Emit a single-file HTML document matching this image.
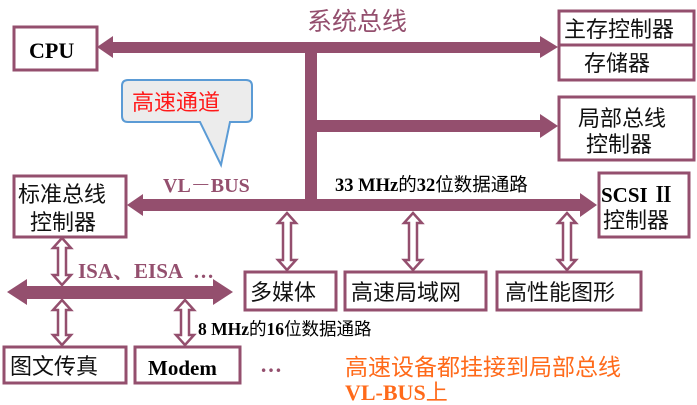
<!DOCTYPE html>
<html><head><meta charset="utf-8"><style>
body{margin:0;background:#fff;}
svg{display:block;}
text{font-family:"Liberation Serif","Noto Serif CJK SC",serif;}
.cn{font-family:"Liberation Sans","Noto Sans CJK SC",sans-serif;}
</style></head><body>
<svg width="697" height="405" viewBox="0 0 697 405" xmlns="http://www.w3.org/2000/svg">
<g fill="#944f6e">
<polygon points="97,47 113,36 113,42 540,42 540,36 558,47 540,58 540,53 113,53 113,58"/>
<rect x="305" y="42" width="12" height="168"/>
<polygon points="317,120 540,120 540,114 558,126 540,138 540,132 317,132"/>
<polygon points="127,205 143,194 143,199 580,199 580,193 597,205 580,217 580,211 143,211 143,216"/>
<polygon points="7,292 27,279 27,286 213,286 213,279 233,292 213,305 213,299 27,299 27,305"/>
</g>
<g fill="#fff" stroke="#944f6e" stroke-width="2.5">
<polygon points="287,213 296,223 291,223 291,260 296,260 287,270 278,260 283,260 283,223 278,223"/>
<polygon points="413,213 422,223 417,223 417,260 422,260 413,270 404,260 409,260 409,223 404,223"/>
<polygon points="567,213 576,223 571,223 571,260 576,260 567,270 558,260 563,260 563,223 558,223"/>
<polygon points="62,238 71,248 66,248 66,275 71,275 62,285 53,275 58,275 58,248 53,248"/>
<polygon points="62,300 71,310 66,310 66,335 71,335 62,345 53,335 58,335 58,310 53,310"/>
<polygon points="185,300 194,310 189,310 189,335 194,335 185,345 176,335 181,335 181,310 176,310"/>
</g>
<g fill="#fff" stroke="#944f6e" stroke-width="3">
<rect x="14" y="27" width="83" height="43"/>
<rect x="559" y="11" width="135" height="69"/>
<line x1="559" y1="45" x2="694" y2="45"/>
<rect x="559" y="97" width="135" height="63"/>
<rect x="599" y="173" width="90" height="64"/>
<rect x="14" y="176" width="112" height="61"/>
<rect x="245" y="272" width="91" height="38"/>
<rect x="345" y="272" width="141" height="38"/>
<rect x="497" y="272" width="144" height="38"/>
<rect x="4" y="347" width="122" height="36"/>
<rect x="135" y="347" width="105" height="36"/>
</g>
<path d="M128,80 H246 Q252,80 252,86 V116 Q252,122 246,122 H230 L221,165 L200,122 H128 Q122,122 122,116 V86 Q122,80 128,80 Z" fill="#ececec" stroke="#5b9bd5" stroke-width="2"/>
<text x="132" y="110" class="cn" font-size="22" fill="#ff1a1a">高速通道</text>
<text x="307" y="30" class="cn" font-size="25" fill="#944f6e">系统总线</text>
<text x="29" y="58" font-size="22" font-weight="bold">CPU</text>
<g font-size="22" fill="#111">
<text x="564" y="37" class="cn">主存控制器</text>
<text x="584" y="71" class="cn">存储器</text>
<text x="578" y="126" class="cn">局部总线</text>
<text x="586" y="152" class="cn">控制器</text>
<text x="603" y="228" class="cn">控制器</text>
<text x="18" y="202" class="cn">标准总线</text>
<text x="30" y="230" class="cn">控制器</text>
<text x="250" y="300" class="cn">多媒体</text>
<text x="351" y="300" class="cn">高速局域网</text>
<text x="505" y="300" class="cn">高性能图形</text>
<text x="10" y="374" class="cn">图文传真</text>
</g>
<text x="601" y="202" font-size="21" font-weight="bold">SCSI Ⅱ</text>
<text x="148" y="375" font-size="21" font-weight="bold">Modem</text>
<text x="163" y="192" font-size="20" font-weight="bold" fill="#944f6e">VL－BUS</text>
<text x="335" y="191" font-size="18.5" font-weight="bold">33 MHz<tspan class="cn" font-weight="normal">的</tspan>32<tspan class="cn" font-weight="normal">位数据通路</tspan></text>
<text x="78" y="278" font-size="21" font-weight="bold" fill="#944f6e">ISA、EISA<tspan dx="10">…</tspan></text>
<text x="198" y="335" font-size="17.5" font-weight="bold">8 MHz<tspan class="cn" font-weight="normal">的</tspan>16<tspan class="cn" font-weight="normal">位数据通路</tspan></text>
<text x="260" y="372" font-size="22" font-weight="bold" fill="#944f6e">…</text>
<text x="345" y="375" class="cn" font-size="23" fill="#ff6a1a">高速设备都挂接到局部总线</text>
<text x="345" y="400" font-size="22" font-weight="bold" fill="#ff6a1a" font-family="Liberation Sans,sans-serif">VL-BUS<tspan class="cn" font-weight="normal">上</tspan></text>
</svg>
</body></html>
